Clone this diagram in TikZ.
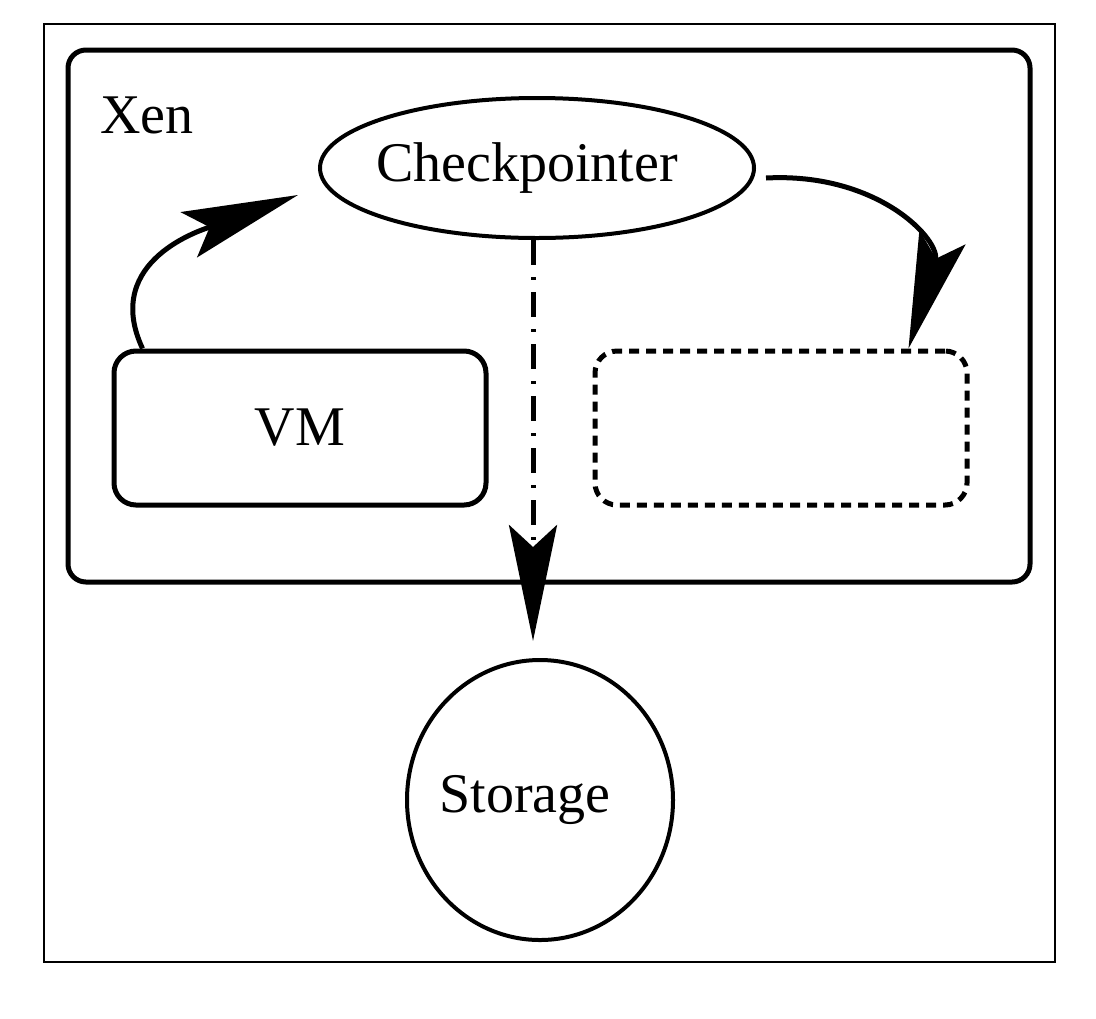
\documentclass[tikz,border=0pt]{standalone}
\usepackage{fontspec}
\setmainfont{Liberation Serif}
\usetikzlibrary{arrows.meta,shapes.geometric,calc}

\begin{document}
\begin{tikzpicture}[x=0.5pt,y=-0.5pt,
  every node/.style={font=\fontsize{28}{33}\selectfont, inner sep=0pt},
  box/.style={draw, line width=2.5pt, rounded corners=11pt, minimum width=186pt, minimum height=77pt},
  ghost/.style={box, dash pattern=on 5pt off 3.5pt},
  oval/.style={draw, ellipse, line width=2pt, inner xsep=-20pt},
  flow/.style={line width=2.5pt, -{Stealth[length=58pt,width=24pt,inset=11pt]}},
  dashdot/.style={dash pattern=on 12.5pt off 6pt on 1.5pt off 6pt}]
\useasboundingbox (0,0) rectangle (1096,1018);
% frames
\draw[line width=1pt] (44,24) rectangle (1055,962);
\draw[line width=2.5pt, rounded corners=9pt] (68,50) rectangle (1030,582);
\node[anchor=base west] (xen) at (100,133) {Xen};
% nodes
\node[oval, minimum width=217pt, minimum height=70pt] (ckpt) at (537,168) {Checkpointer\kern10pt};
\node[box] (vm) at (300,428) {VM};
\node[ghost] (copy) at (781,428) {};
\node[oval, minimum width=133pt, minimum height=140pt] (store) at (540,800) {Storage\kern15pt};
% arrows
\draw[flow] ($(vm.north west)+(31,0)$) to[out=115,in=200,looseness=1.15] ($(ckpt.west)+(-20,27)$);
\draw[flow] ($(ckpt.east)+(10,10)$) to[out=3,in=73,looseness=1.3] ($(copy.north east)+(-61,0)$);
\draw[flow, dashdot] ($(ckpt.south)+(-4,0)$) -- ($(store.north)+(-7,-17)$);
\end{tikzpicture}
\end{document}
